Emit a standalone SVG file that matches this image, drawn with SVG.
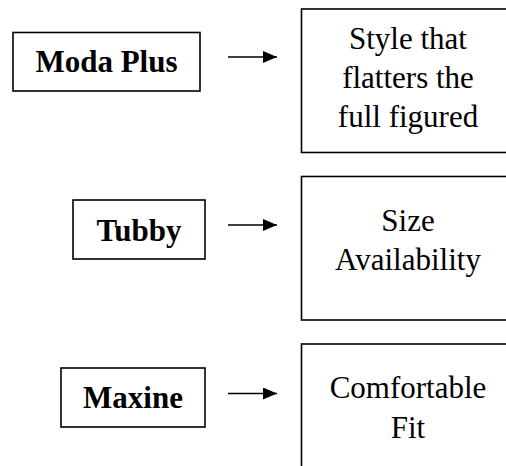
<svg xmlns="http://www.w3.org/2000/svg" width="506" height="466" viewBox="0 0 506 466">
  <style>
    .box { fill: #ffffff; stroke: #000000; stroke-width: 1.6; }
    .brand { font-family: 'Liberation Serif', Tinos, 'Times New Roman', 'DejaVu Serif', serif; font-size: 31px; font-weight: bold; fill: #000000; text-anchor: middle; }
    .trait { font-family: 'Liberation Serif', Tinos, 'Times New Roman', 'DejaVu Serif', serif; font-size: 31px; fill: #000000; text-anchor: middle; }
    .link { stroke: #000000; stroke-width: 1.6; fill: none; }
  </style>
  <defs>
    <marker id="head" viewBox="0 0 14 12" refX="14" refY="6" markerWidth="14" markerHeight="12" markerUnits="userSpaceOnUse" orient="auto">
      <path d="M0,0 L14,6 L0,12 Z" fill="#000000"/>
    </marker>
  </defs>
  <rect width="506" height="466" fill="#ffffff"/>

  <!-- brand boxes -->
  <g id="moda-plus">
    <rect class="box" x="13" y="32.5" width="187" height="58.5"/>
    <text class="brand" x="106.5" y="72">Moda Plus</text>
  </g>
  <g id="tubby">
    <rect class="box" x="73" y="200" width="132" height="59"/>
    <text class="brand" x="139" y="240.5">Tubby</text>
  </g>
  <g id="maxine">
    <rect class="box" x="61" y="368" width="144" height="59"/>
    <text class="brand" x="133" y="408">Maxine</text>
  </g>

  <!-- attribute boxes (run off the right and bottom edges) -->
  <g id="style">
    <rect class="box" x="301.5" y="9" width="220" height="143.5"/>
    <text class="trait" x="408" y="49">Style that</text>
    <text class="trait" x="408" y="88">flatters the</text>
    <text class="trait" x="408" y="127">full figured</text>
  </g>
  <g id="size">
    <rect class="box" x="301.5" y="176.5" width="220" height="143.5"/>
    <text class="trait" x="408" y="231">Size</text>
    <text class="trait" x="408" y="270">Availability</text>
  </g>
  <g id="fit">
    <rect class="box" x="301.5" y="344" width="220" height="140"/>
    <text class="trait" x="408" y="398">Comfortable</text>
    <text class="trait" x="408" y="438">Fit</text>
  </g>

  <!-- connectors -->
  <g id="connectors">
    <line class="link" x1="228" y1="57" x2="277" y2="57" marker-end="url(#head)"/>
    <line class="link" x1="228" y1="225" x2="277" y2="225" marker-end="url(#head)"/>
    <line class="link" x1="228" y1="393.5" x2="277" y2="393.5" marker-end="url(#head)"/>
  </g>
</svg>
